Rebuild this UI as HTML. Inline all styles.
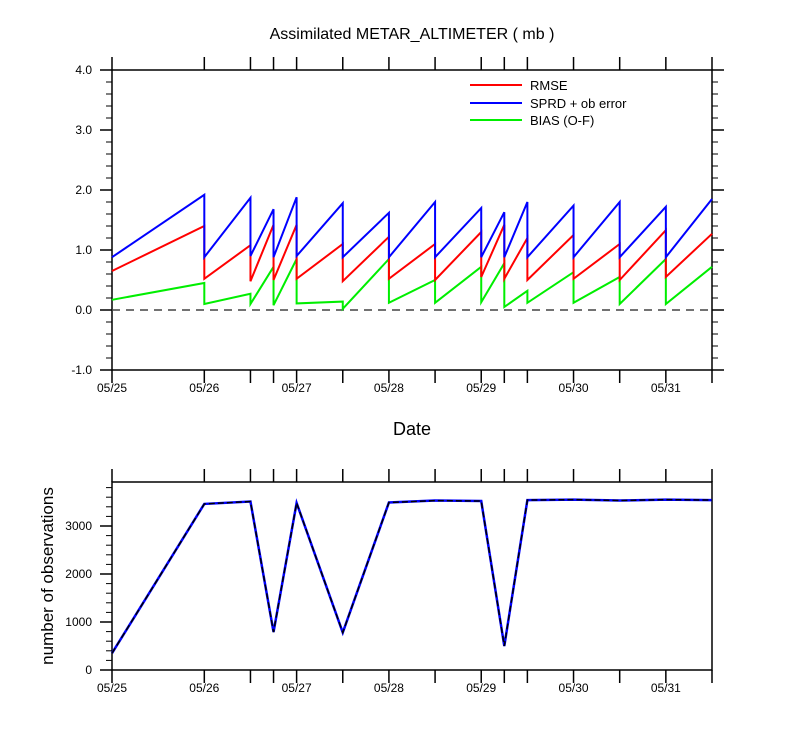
<!DOCTYPE html>
<html><head><meta charset="utf-8"><style>
body{margin:0;background:#fff;}
svg text{font-family:"Liberation Sans",sans-serif;fill:#000;}
</style></head><body>
<svg id="c" width="800" height="750" xmlns="http://www.w3.org/2000/svg"></svg>
<script>
const cycleTimes=[0,1,1.5,1.75,2,2.5,3,3.5,4,4.25,4.5,5,5.5,6,6.5];
const dayLabels=["05/25","05/26","05/27","05/28","05/29","05/30","05/31"];
const rmseStart=[0.65,0.52,0.48,0.5,0.52,0.48,0.52,0.5,0.55,0.52,0.5,0.52,0.5,0.55];
const rmseEnd=[1.4,1.08,1.42,1.42,1.1,1.22,1.1,1.3,1.42,1.2,1.25,1.1,1.33,1.27];
const sprdStart=[0.88,0.88,0.9,0.88,0.9,0.88,0.88,0.88,0.88,0.88,0.88,0.88,0.88,0.88];
const sprdEnd=[1.92,1.87,1.68,1.88,1.78,1.62,1.8,1.7,1.63,1.8,1.74,1.8,1.72,1.85];
const biasStart=[0.17,0.1,0.1,0.08,0.11,0.02,0.12,0.12,0.13,0.05,0.12,0.12,0.1,0.1];
const biasEnd=[0.45,0.27,0.72,0.85,0.14,0.85,0.5,0.72,0.78,0.32,0.63,0.55,0.85,0.72];
const obsCount=[350,3460,3510,790,3480,780,3490,3530,3520,500,3540,3550,3530,3550,3540];
const yTicksTop=[-1,0,1,2,3,4];
const yTicksBot=[0,1000,2000,3000];

const S=document.getElementById('c');const NS='http://www.w3.org/2000/svg';
function el(t,a,p){const e=document.createElementNS(NS,t);for(const k in a)e.setAttribute(k,a[k]);(p||S).appendChild(e);return e;}
const X0=112,X1=712,TMAX=6.5;
const xs=t=>X0+(X1-X0)*t/TMAX;
const yTop=v=>370-(v+1)*60;
const BT=482,BB=670,BMAX=(BB-BT)/0.048;
const yBot=v=>BB-v*0.048;

function axes(top,bot,yfun,ticks,minorStep,fmt,ymin,ymax,rightTicks,name){
  const g=el('g',{});
  
  
  el('rect',{x:X0,y:top,width:X1-X0,height:bot-top,fill:'none',stroke:'#000','stroke-width':1.5},g);
  for(let d=0;d<=6;d++){
    const x=xs(d);
    el('line',{x1:x,x2:x,y1:top-13,y2:top,stroke:'#000','stroke-width':1.5},g);
    el('line',{x1:x,x2:x,y1:bot,y2:bot+13,stroke:'#000','stroke-width':1.5},g);
    const t=el('text',{x:x,y:bot+22,'text-anchor':'middle','font-size':12},g);t.textContent=dayLabels[d];
    
    
  }
  [1.5,1.75,2.5,3.5,4.25,4.5,5.5,6.5].forEach(d=>{
    const x=xs(d);
    el('line',{x1:x,x2:x,y1:top-13,y2:top,stroke:'#000','stroke-width':1.5},g);
    el('line',{x1:x,x2:x,y1:bot,y2:bot+13,stroke:'#000','stroke-width':1.5},g);
  });
  for(let v=ymin;v<=ymax+1e-9;v+=minorStep){
    const y=yfun(v);if(y<top-0.5)continue;
    el('line',{x1:X0-6,x2:X0,y1:y,y2:y,stroke:'#000','stroke-width':1},g);
    if(rightTicks)el('line',{x1:X1,x2:X1+6,y1:y,y2:y,stroke:'#000','stroke-width':1},g);
  }
  ticks.forEach(v=>{
    const y=yfun(v);
    el('line',{x1:X0-12,x2:X0,y1:y,y2:y,stroke:'#000','stroke-width':1.5},g);
    if(rightTicks)el('line',{x1:X1,x2:X1+12,y1:y,y2:y,stroke:'#000','stroke-width':1.5},g);
    const t=el('text',{x:X0-20,y:y+4,'text-anchor':'end','font-size':12},g);t.textContent=fmt(v);
    
    
  });
}
axes(70,370,yTop,yTicksTop,0.2,v=>v.toFixed(1),-1,4,true,'top-axes');
axes(BT,BB,yBot,yTicksBot,200,v=>String(v),0,BMAX,false,'bottom-axes');

const zl=el('line',{x1:X0,x2:X1,y1:yTop(0),y2:yTop(0),stroke:'#444','stroke-width':1.5,'stroke-dasharray':'8,6'});



function saw(st,en,color,name){
  let d='';
  for(let i=0;i<st.length;i++){
    d+=(i?'L':'M')+xs(cycleTimes[i])+','+yTop(st[i])+'L'+xs(cycleTimes[i+1])+','+yTop(en[i]);
  }
  const p=el('path',{d:d,fill:'none',stroke:color,'stroke-width':2});
  
  
}
saw(biasStart,biasEnd,'#00ee00','bias-line');
saw(rmseStart,rmseEnd,'#ff0000','rmse-line');
saw(sprdStart,sprdEnd,'#0000ff','sprd-line');

let od='';
obsCount.forEach((v,i)=>{od+=(i?'L':'M')+xs(cycleTimes[i])+','+yBot(v);});
const o1=el('path',{d:od,fill:'none',stroke:'#0000ff','stroke-width':2.5});


const o2=el('path',{d:od,fill:'none',stroke:'#000','stroke-width':1.5,'stroke-dasharray':'6,3'});



const leg=[['RMSE','#ff0000',85],['SPRD + ob error','#0000ff',103],['BIAS (O-F)','#00ee00',120]];
leg.forEach(l=>{
  const g=el('g',{});
  
  
  el('line',{x1:470,x2:522,y1:l[2],y2:l[2],stroke:l[1],'stroke-width':2},g);
  const t=el('text',{x:530,y:l[2]+5,'font-size':13},g);t.textContent=l[0];
});
let t=el('text',{x:412,y:39,'text-anchor':'middle','font-size':16});t.textContent='Assimilated METAR_ALTIMETER ( mb )';


t=el('text',{x:412,y:435,'text-anchor':'middle','font-size':18});t.textContent='Date';


t=el('text',{x:53,y:576,'text-anchor':'middle','font-size':17,transform:'rotate(-90 53 576)'});t.textContent='number of observations';


</script>
</body></html>
